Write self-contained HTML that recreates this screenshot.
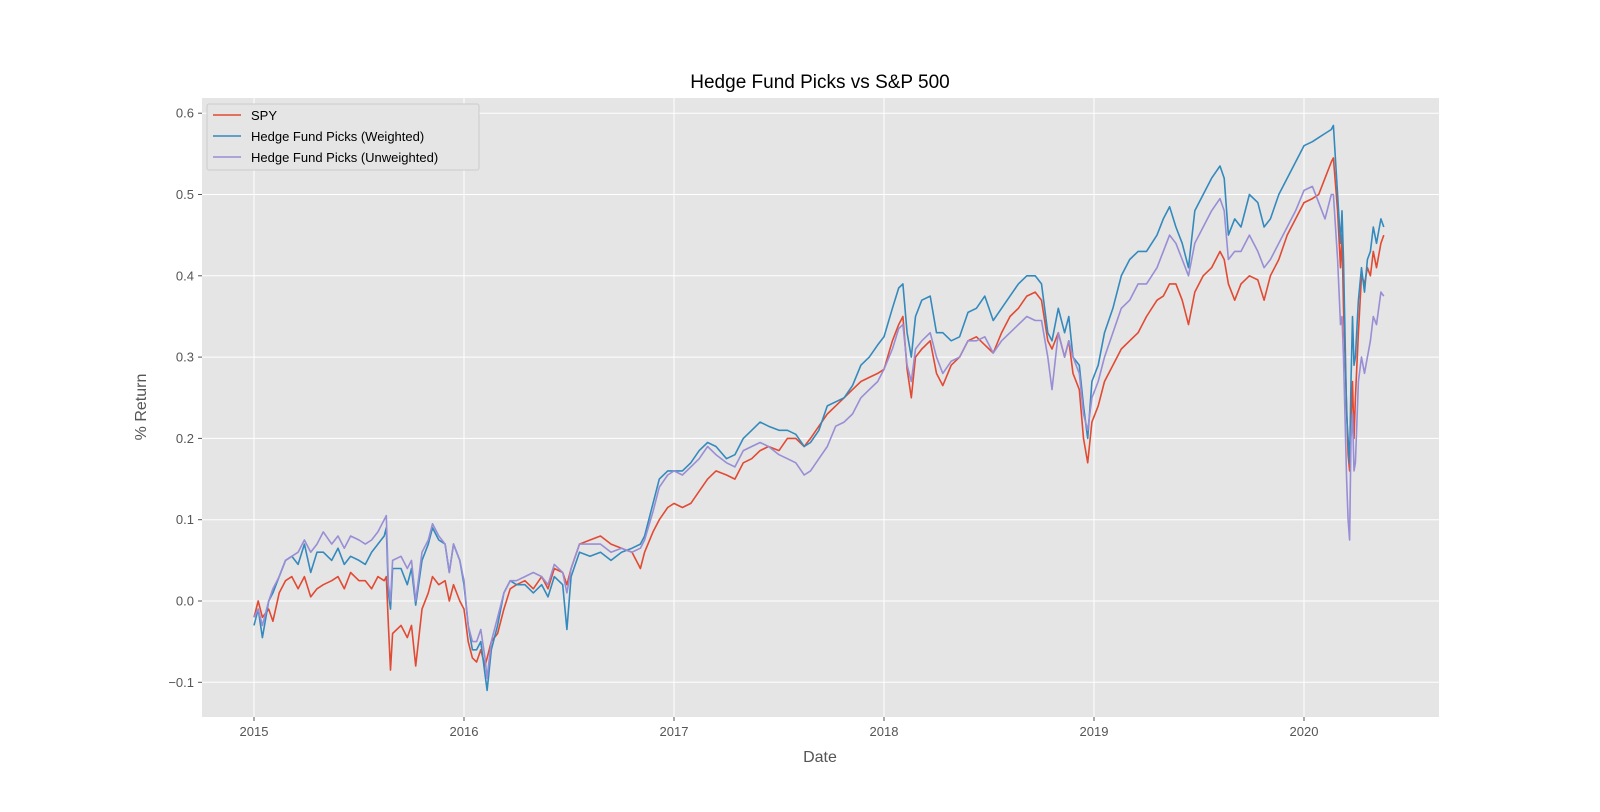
<!DOCTYPE html>
<html><head><meta charset="utf-8"><style>
body{margin:0;background:#fff;}
svg text{font-family:"Liberation Sans","DejaVu Sans",sans-serif;}
</style></head><body>
<svg id="chart" width="1600" height="807" xmlns="http://www.w3.org/2000/svg">
<rect x="0" y="0" width="1600" height="807" fill="#fff"/>
<rect x="202" y="98" width="1237" height="619" fill="#E5E5E5"/>
<g id="grid"></g>
<g id="ticks"></g>
<g id="series"></g>
<text x="820" y="88" font-size="19" text-anchor="middle" fill="#000">Hedge Fund Picks vs S&amp;P 500</text>
<text x="820" y="762" font-size="16" text-anchor="middle" fill="#555">Date</text>
<text x="0" y="0" font-size="16" text-anchor="middle" fill="#555" transform="translate(146,407) rotate(-90)">% Return</text>
<g>
<rect x="207" y="104" width="272" height="66" fill="#E5E5E5" stroke="#ccc" stroke-width="1" rx="2"/>
<line x1="213" y1="115" x2="241" y2="115" stroke="#E24A33" stroke-width="1.6"/>
<text x="251" y="120" font-size="13" fill="#000">SPY</text>
<line x1="213" y1="136" x2="241" y2="136" stroke="#348ABD" stroke-width="1.6"/>
<text x="251" y="141" font-size="13" fill="#000">Hedge Fund Picks (Weighted)</text>
<line x1="213" y1="157" x2="241" y2="157" stroke="#988ED5" stroke-width="1.6"/>
<text x="251" y="162" font-size="13" fill="#000">Hedge Fund Picks (Unweighted)</text>
</g>
</svg>
<script>
const dates=[2015.00,2015.02,2015.04,2015.07,2015.09,2015.12,2015.15,2015.18,2015.21,2015.24,2015.27,2015.30,2015.33,2015.37,2015.40,2015.43,2015.46,2015.50,2015.53,2015.56,2015.59,2015.62,2015.63,2015.64,2015.65,2015.66,2015.70,2015.73,2015.75,2015.77,2015.80,2015.83,2015.85,2015.88,2015.91,2015.93,2015.95,2015.98,2016.00,2016.02,2016.04,2016.06,2016.08,2016.10,2016.11,2016.13,2016.16,2016.19,2016.22,2016.25,2016.29,2016.33,2016.37,2016.40,2016.43,2016.47,2016.49,2016.51,2016.55,2016.60,2016.65,2016.70,2016.75,2016.80,2016.84,2016.86,2016.90,2016.93,2016.97,2017.00,2017.04,2017.08,2017.12,2017.16,2017.20,2017.25,2017.29,2017.33,2017.37,2017.41,2017.45,2017.50,2017.54,2017.58,2017.62,2017.65,2017.69,2017.73,2017.77,2017.81,2017.85,2017.89,2017.93,2017.97,2018.00,2018.04,2018.07,2018.09,2018.11,2018.13,2018.15,2018.18,2018.22,2018.25,2018.28,2018.32,2018.36,2018.40,2018.44,2018.48,2018.52,2018.56,2018.60,2018.64,2018.68,2018.72,2018.75,2018.78,2018.80,2018.83,2018.86,2018.88,2018.90,2018.93,2018.95,2018.97,2018.99,2019.02,2019.05,2019.09,2019.13,2019.17,2019.21,2019.25,2019.30,2019.33,2019.36,2019.39,2019.42,2019.45,2019.48,2019.52,2019.56,2019.60,2019.62,2019.64,2019.67,2019.70,2019.74,2019.78,2019.81,2019.84,2019.88,2019.92,2019.96,2020.00,2020.04,2020.07,2020.10,2020.13,2020.14,2020.16,2020.174,2020.181,2020.188,2020.203,2020.21,2020.217,2020.224,2020.231,2020.238,2020.245,2020.259,2020.274,2020.288,2020.302,2020.316,2020.33,2020.345,2020.366,2020.38];
const spy=[-0.02,0.00,-0.02,-0.01,-0.025,0.01,0.025,0.03,0.015,0.03,0.005,0.015,0.02,0.025,0.03,0.015,0.035,0.025,0.025,0.015,0.03,0.025,0.03,-0.03,-0.085,-0.04,-0.03,-0.045,-0.03,-0.08,-0.01,0.01,0.03,0.02,0.025,0.00,0.02,0.00,-0.01,-0.05,-0.07,-0.075,-0.06,-0.08,-0.07,-0.05,-0.04,-0.01,0.015,0.02,0.025,0.015,0.03,0.015,0.04,0.035,0.02,0.04,0.07,0.075,0.08,0.07,0.065,0.06,0.04,0.06,0.085,0.1,0.115,0.12,0.115,0.12,0.135,0.15,0.16,0.155,0.15,0.17,0.175,0.185,0.19,0.185,0.2,0.2,0.19,0.2,0.215,0.23,0.24,0.25,0.26,0.27,0.275,0.28,0.285,0.32,0.34,0.35,0.285,0.25,0.3,0.31,0.32,0.28,0.265,0.29,0.3,0.32,0.325,0.315,0.305,0.33,0.35,0.36,0.375,0.38,0.37,0.32,0.31,0.33,0.3,0.32,0.28,0.26,0.2,0.17,0.22,0.24,0.27,0.29,0.31,0.32,0.33,0.35,0.37,0.375,0.39,0.39,0.37,0.34,0.38,0.4,0.41,0.43,0.42,0.39,0.37,0.39,0.4,0.395,0.37,0.4,0.42,0.45,0.47,0.49,0.495,0.5,0.52,0.54,0.545,0.48,0.41,0.45,0.36,0.24,0.18,0.16,0.22,0.27,0.2,0.25,0.33,0.4,0.39,0.41,0.4,0.43,0.41,0.44,0.45];
const weighted=[-0.03,-0.01,-0.045,0.0,0.01,0.03,0.05,0.055,0.045,0.07,0.035,0.06,0.06,0.05,0.065,0.045,0.055,0.05,0.045,0.06,0.07,0.08,0.09,0.01,-0.01,0.04,0.04,0.02,0.04,-0.005,0.05,0.07,0.09,0.075,0.07,0.035,0.07,0.05,0.02,-0.03,-0.06,-0.06,-0.05,-0.09,-0.11,-0.06,-0.03,0.01,0.025,0.02,0.02,0.01,0.02,0.005,0.03,0.02,-0.035,0.03,0.06,0.055,0.06,0.05,0.06,0.065,0.07,0.08,0.12,0.15,0.16,0.16,0.16,0.17,0.185,0.195,0.19,0.175,0.18,0.2,0.21,0.22,0.215,0.21,0.21,0.205,0.19,0.195,0.21,0.24,0.245,0.25,0.265,0.29,0.3,0.315,0.325,0.36,0.385,0.39,0.33,0.3,0.35,0.37,0.375,0.33,0.33,0.32,0.325,0.355,0.36,0.375,0.345,0.36,0.375,0.39,0.4,0.4,0.39,0.33,0.32,0.36,0.33,0.35,0.3,0.29,0.24,0.2,0.27,0.29,0.33,0.36,0.4,0.42,0.43,0.43,0.45,0.47,0.485,0.46,0.44,0.41,0.48,0.5,0.52,0.535,0.52,0.45,0.47,0.46,0.5,0.49,0.46,0.47,0.5,0.52,0.54,0.56,0.565,0.57,0.575,0.58,0.585,0.5,0.44,0.48,0.42,0.23,0.2,0.17,0.27,0.35,0.29,0.3,0.37,0.41,0.38,0.42,0.43,0.46,0.44,0.47,0.46];
const unweighted=[-0.02,-0.01,-0.03,0.0,0.015,0.03,0.05,0.055,0.06,0.075,0.06,0.07,0.085,0.07,0.08,0.065,0.08,0.075,0.07,0.075,0.085,0.1,0.105,0.02,0.0,0.05,0.055,0.04,0.05,0.0,0.06,0.075,0.095,0.08,0.07,0.035,0.07,0.05,0.025,-0.03,-0.05,-0.05,-0.035,-0.07,-0.095,-0.05,-0.02,0.01,0.025,0.025,0.03,0.035,0.03,0.02,0.045,0.035,0.01,0.04,0.07,0.07,0.07,0.06,0.065,0.06,0.065,0.075,0.11,0.14,0.155,0.16,0.155,0.165,0.175,0.19,0.18,0.17,0.165,0.185,0.19,0.195,0.19,0.18,0.175,0.17,0.155,0.16,0.175,0.19,0.215,0.22,0.23,0.25,0.26,0.27,0.285,0.31,0.335,0.34,0.29,0.27,0.31,0.32,0.33,0.3,0.28,0.295,0.3,0.32,0.32,0.325,0.305,0.32,0.33,0.34,0.35,0.345,0.345,0.3,0.26,0.33,0.3,0.32,0.3,0.28,0.23,0.21,0.25,0.27,0.3,0.33,0.36,0.37,0.39,0.39,0.41,0.43,0.45,0.44,0.42,0.4,0.44,0.46,0.48,0.495,0.48,0.42,0.43,0.43,0.45,0.43,0.41,0.42,0.44,0.46,0.48,0.505,0.51,0.49,0.47,0.5,0.5,0.42,0.34,0.35,0.3,0.15,0.1,0.075,0.2,0.23,0.16,0.17,0.27,0.3,0.28,0.3,0.32,0.35,0.34,0.38,0.375];
const yTicks=[-0.1,0.0,0.1,0.2,0.3,0.4,0.5,0.6];
const yTickLabels=["\u22120.1","0.0","0.1","0.2","0.3","0.4","0.5","0.6"];
const xTicks=[2015,2016,2017,2018,2019,2020];
const xTickLabels=["2015","2016","2017","2018","2019","2020"];

const L=202,R=1439,T=98,B=717;
function xs(t){return 254+(t-2015)*210;}
function ys(v){return 601-v*813;}
const NS="http://www.w3.org/2000/svg";
const grid=document.getElementById('grid'),ticks=document.getElementById('ticks'),series=document.getElementById('series');
function mk(tag,attrs,parent){const e=document.createElementNS(NS,tag);for(const k in attrs)e.setAttribute(k,attrs[k]);parent.appendChild(e);return e;}
yTicks.forEach((v,i)=>{
  const y=ys(v);
  const g=mk('line',{x1:L,x2:R,y1:y,y2:y,stroke:'#fff','stroke-width':1},grid);
  
  
  const tk=mk('line',{x1:L-4,x2:L,y1:y,y2:y,stroke:'#555','stroke-width':1},ticks);
  
  
  const t=mk('text',{x:L-8,y:y+4.5,'font-size':13,'text-anchor':'end',fill:'#555'},ticks);
  t.textContent=yTickLabels[i];
  
  
});
xTicks.forEach((v,i)=>{
  const x=xs(v);
  const g=mk('line',{x1:x,x2:x,y1:T,y2:B,stroke:'#fff','stroke-width':1},grid);
  
  
  const tk=mk('line',{x1:x,x2:x,y1:B,y2:B+4,stroke:'#555','stroke-width':1},ticks);
  
  
  const t=mk('text',{x:x,y:B+19,'font-size':13,'text-anchor':'middle',fill:'#555'},ticks);
  t.textContent=xTickLabels[i];
  
  
});
function drawLine(vals,color,name){
  const d=vals.map((v,i)=>(i?'L':'M')+xs(dates[i]).toFixed(1)+','+ys(v).toFixed(1)).join(' ');
  const p=mk('path',{d:d,fill:'none',stroke:color,'stroke-width':1.6,'stroke-linejoin':'round'},series);
  
  
}
drawLine(spy,'#E24A33','spy-line');
drawLine(weighted,'#348ABD','weighted-line');
drawLine(unweighted,'#988ED5','unweighted-line');
</script>
</body></html>
